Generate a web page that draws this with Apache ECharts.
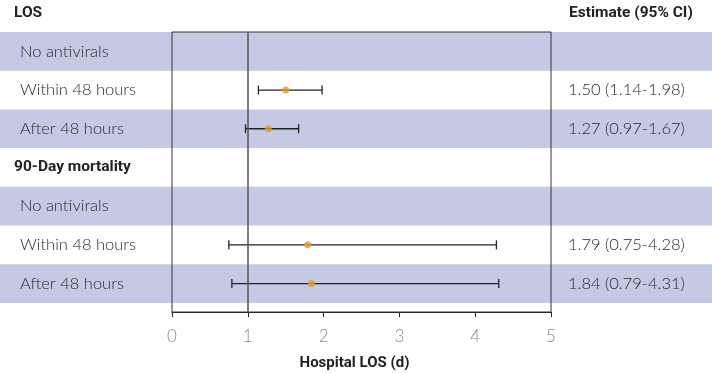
<!DOCTYPE html>
<html><head><meta charset="utf-8">
<script src="https://cdn.jsdelivr.net/npm/echarts@6/dist/echarts.min.js"></script>
<style>html,body{margin:0;padding:0;background:#fff}#c{width:712px;height:373px}</style>
</head><body><div id="c"></div>
<script>
// Rows (top to bottom); index 0 is the first section header above the plot box
var rowLabels = ['LOS','No antivirals','Within 48 hours','After 48 hours','90-Day mortality','No antivirals','Within 48 hours','After 48 hours'];
var rowIsHeader = [true,false,false,false,true,false,false,false];
var rowBanded = [false,true,false,true,false,true,false,true];
var estimates = [null,null,1.50,1.27,null,null,1.79,1.84];
var lowerCI = [null,null,1.14,0.97,null,null,0.75,0.79];
var upperCI = [null,null,1.98,1.67,null,null,4.28,4.31];
var estimateText = [null,null,'1.50 (1.14-1.98)','1.27 (0.97-1.67)',null,null,'1.79 (0.75-4.28)','1.84 (0.79-4.31)'];
var xTicks = [0,1,2,3,4,5];
var refValue = 1;

var FONT = 'Lato';
var BOLD = 'Roboto';
function pos(i){ return i - 0.5; }

var bandData = [], labelData = [], errData = [], ptData = [], estData = [];
rowLabels.forEach(function(l,i){
  if (rowBanded[i]) bandData.push([0, pos(i)]);
  labelData.push([0, pos(i), i]);
  if (estimates[i] != null) {
    errData.push([lowerCI[i], upperCI[i], pos(i)]);
    ptData.push([estimates[i], pos(i)]);
    estData.push([5, pos(i), i]);
  }
});

var chart = echarts.init(document.getElementById('c'));
chart.setOption({
  animation:false,
  grid:{left:172, right:161, top:32, bottom:61, show:true, borderColor:'#333', borderWidth:1, z:3,
        containLabel:false, outerBoundsMode:'none'},
  xAxis:{type:'value', min:0, max:5, interval:1,
    axisLine:{show:true, onZero:false, lineStyle:{color:'#222', width:1}},
    axisTick:{show:true, length:5, lineStyle:{color:'#222'}},
    splitLine:{show:false},
    axisLabel:{color:'#888', fontFamily:FONT, fontSize:17, margin:16, fontWeight:300},
    name:'Hospital LOS (d)', nameLocation:'middle', nameGap:44,
    nameTextStyle:{color:'#222', fontFamily:BOLD, fontSize:15, fontWeight:'bold', padding:[0,14,0,0]}
  },
  yAxis:{type:'value', inverse:true, min:0, max:7.235, show:false},
  series:[
    {type:'custom', z:0, clip:false, silent:true, data:bandData,
      renderItem:function(params, api){
        var top = api.coord([0, api.value(1)-0.5])[1];
        var bot = api.coord([0, api.value(1)+0.5])[1];
        return {type:'rect', shape:{x:0, y:top, width:api.getWidth(), height:bot-top}, style:{fill:'#c5c9e3'}};
      }
    },
    {type:'custom', z:5, clip:false, silent:true, data:labelData,
      renderItem:function(params, api){
        var i = api.value(2);
        var y = api.coord([0, api.value(1)])[1];
        var hdr = rowIsHeader[i];
        return {type:'text', style:{text:rowLabels[i], x: hdr?14:20, y:y, textVerticalAlign:'middle', textAlign:'left',
          fill: hdr?'#222':'#2a2a2a', font: hdr?('bold 15.5px '+BOLD):('300 16.5px '+FONT)}};
      }
    },
    {type:'custom', z:5, clip:false, silent:true, data:estData,
      renderItem:function(params, api){
        var i = api.value(2);
        var y = api.coord([0, api.value(1)])[1];
        return {type:'text', style:{text:estimateText[i], x:568, y:y, textVerticalAlign:'middle', textAlign:'left',
          fill:'#2a2a2a', font:'300 16.5px '+FONT}};
      }
    },
    {type:'custom', z:4, clip:false, silent:true, data:errData,
      renderItem:function(params, api){
        var a = api.coord([api.value(0), api.value(2)]);
        var b = api.coord([api.value(1), api.value(2)]);
        var h = 4.5;
        var st = {stroke:'#222', lineWidth:1.3};
        return {type:'group', children:[
          {type:'line', shape:{x1:a[0],y1:a[1],x2:b[0],y2:b[1]}, style:st},
          {type:'line', shape:{x1:a[0],y1:a[1]-h,x2:a[0],y2:a[1]+h}, style:st},
          {type:'line', shape:{x1:b[0],y1:b[1]-h,x2:b[0],y2:b[1]+h}, style:st}
        ]};
      },
      markLine:{silent:true, symbol:'none', label:{show:false},
        lineStyle:{color:'#555', width:1.5, type:'solid'},
        data:[{xAxis:refValue}]}
    },
    {type:'scatter', z:6, silent:true, data:ptData, symbol:'circle', symbolSize:7,
      itemStyle:{color:'#e39a2c'}}
  ],
  graphic:[
    {type:'text', left:569, top:5, z:10, style:{text:'Estimate (95% CI)', fill:'#222', font:'bold 15.5px '+BOLD}}
  ]
});
</script></body></html>
